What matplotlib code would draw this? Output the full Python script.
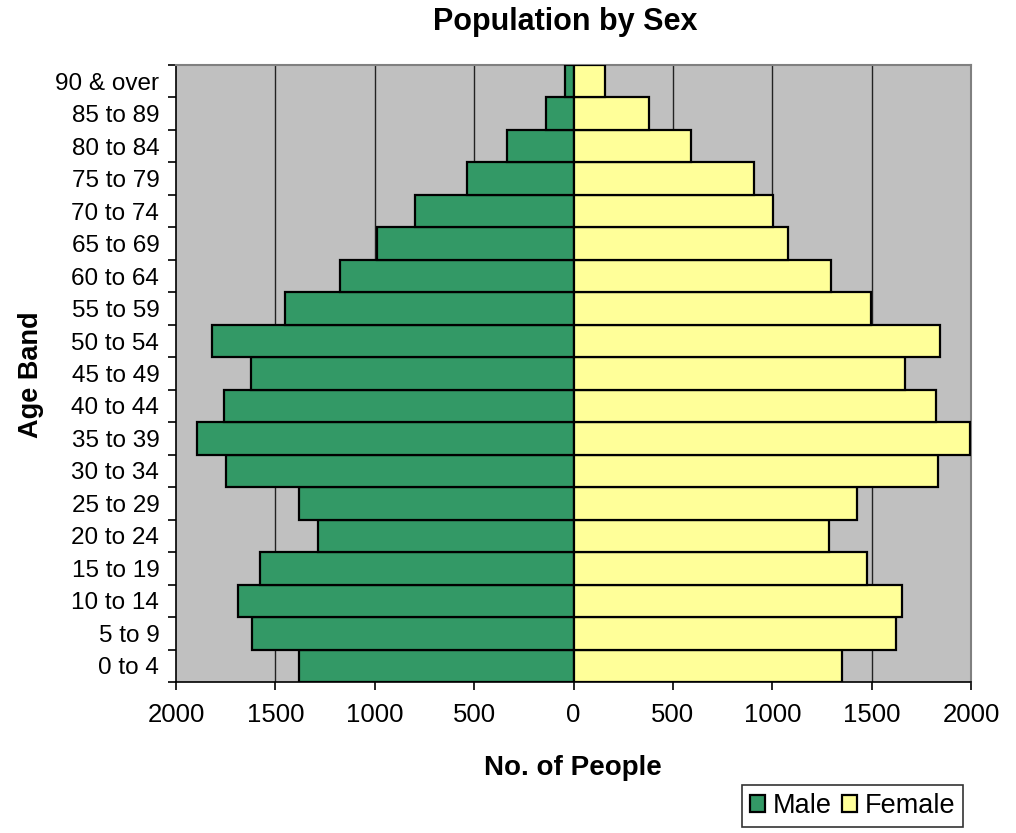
import matplotlib
matplotlib.use("Agg")
import matplotlib.pyplot as plt
import numpy as np

plt.rcParams['font.family'] = ['Liberation Sans', 'DejaVu Sans']

age_bands = ["0 to 4", "5 to 9", "10 to 14", "15 to 19", "20 to 24", "25 to 29",
             "30 to 34", "35 to 39", "40 to 44", "45 to 49", "50 to 54", "55 to 59",
             "60 to 64", "65 to 69", "70 to 74", "75 to 79", "80 to 84", "85 to 89",
             "90 & over"]
male = [1380, 1620, 1690, 1578, 1286, 1380, 1747, 1896, 1759, 1621, 1821, 1454,
        1177, 988, 800, 536, 335, 138, 42]
female = [1350, 1625, 1655, 1477, 1286, 1424, 1834, 1993, 1826, 1667, 1846, 1499,
          1298, 1077, 1002, 908, 591, 380, 159]
x_ticks = [-2000, -1500, -1000, -500, 0, 500, 1000, 1500, 2000]
x_tick_labels = ["2000", "1500", "1000", "500", "0", "500", "1000", "1500", "2000"]

W, H = 1016, 833
fig = plt.figure(figsize=(W / 100, H / 100), dpi=100)
ax = fig.add_axes([176 / W, 1 - 682 / H, (971 - 176) / W, (682 - 65) / H])
ax.set_facecolor("#C0C0C0")

y = np.arange(len(age_bands))
ax.barh(y, -np.array(male), height=1.0, color="#339966", edgecolor="black",
        linewidth=1.6, label="Male", zorder=3)
ax.barh(y, female, height=1.0, color="#FFFF99", edgecolor="black",
        linewidth=1.6, label="Female", zorder=3)

ax.set_xlim(-2000, 2000)
ax.set_ylim(-0.5, len(age_bands) - 0.5)
ax.set_xticks(x_ticks)
ax.set_xticklabels(x_tick_labels, fontsize=18.5)
ax.set_yticks(y)
ax.set_yticklabels(age_bands, fontsize=17.5)
ax.set_yticks(np.arange(-0.5, len(age_bands)), minor=True)
ax.tick_params(axis="y", which="major", length=0, pad=12)
ax.tick_params(axis="y", which="minor", length=6, width=1.2, direction="out")
ax.tick_params(axis="x", which="major", length=6, width=1.2, direction="out", pad=9)

for gx in [-1500, -1000, -500, 500, 1000, 1500]:
    ax.axvline(gx, color="#222222", linewidth=1.0, zorder=1)

for side in ["top", "right"]:
    ax.spines[side].set_color("#808080")
    ax.spines[side].set_linewidth(1.5)
for side in ["left", "bottom"]:
    ax.spines[side].set_color("black")
    ax.spines[side].set_linewidth(1.2)

fig.text(565 / W, 1 - 22 / H, "Population by Sex", ha="center", va="center",
         fontsize=22, fontweight="bold")
fig.text(573 / W, 1 - 768 / H, "No. of People", ha="center", va="center",
         fontsize=20, fontweight="bold")
fig.text(31 / W, 1 - 375 / H, "Age Band", ha="center", va="center",
         fontsize=19.5, fontweight="bold", rotation=90)

leg = fig.legend(loc="upper left", bbox_to_anchor=(742 / W, 1 - 785 / H),
                 ncol=2, fontsize=19.5, frameon=True, fancybox=False,
                 handlelength=0.55, handleheight=0.55, handletextpad=0.3,
                 columnspacing=0.35, borderpad=0.3, borderaxespad=0)
leg.get_frame().set_edgecolor("black")
leg.get_frame().set_linewidth(1.2)

fig.savefig("out.png", dpi=100)
